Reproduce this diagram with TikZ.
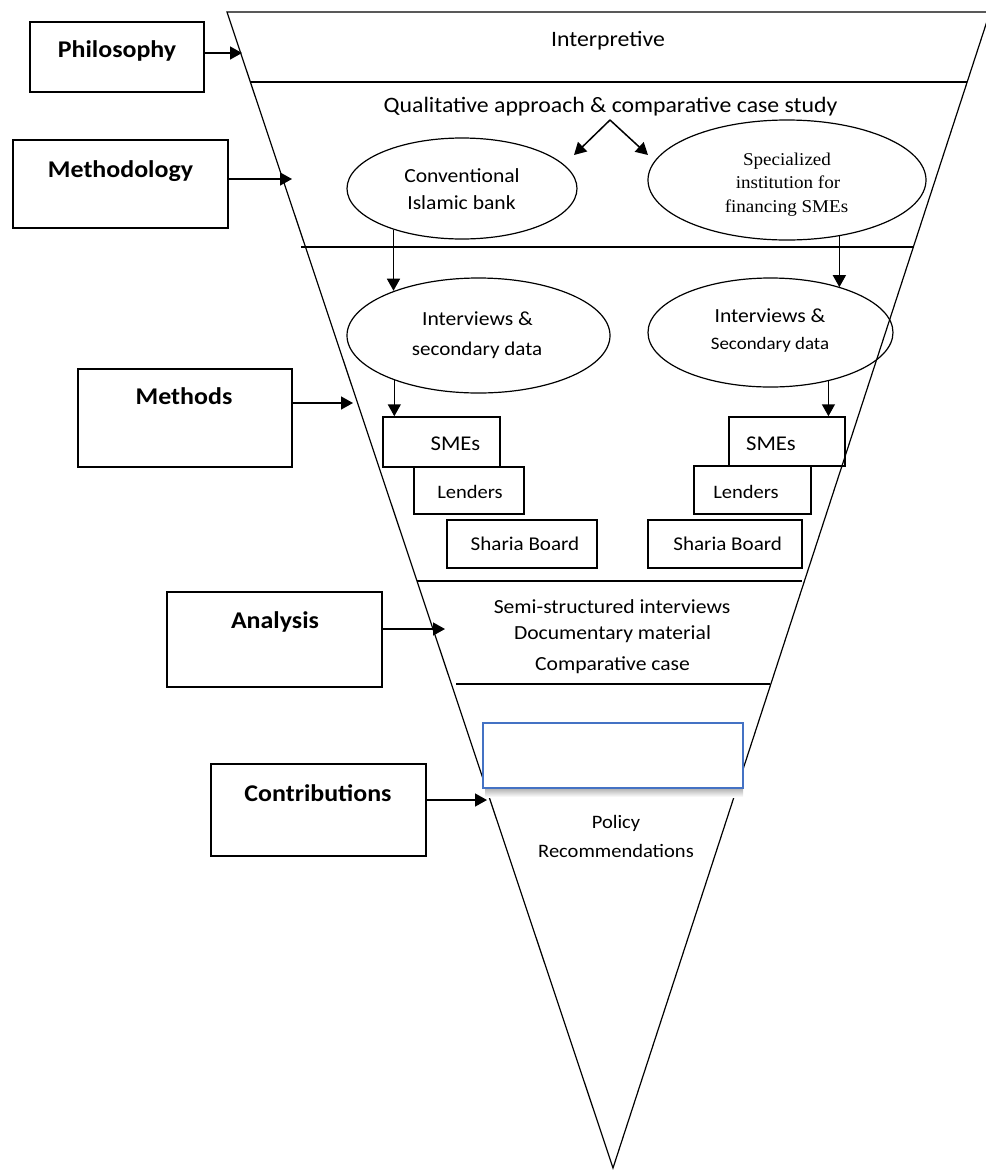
\documentclass[tikz,border=0pt]{standalone}
\usepackage{fontspec}
\setmainfont{Carlito}[FakeStretch=1.08]
\newfontfamily\specfont{Liberation Serif}[FakeStretch=1.06]
\usetikzlibrary{arrows.meta,shapes.geometric}
\definecolor{wordblue}{HTML}{4472C4}

\begin{document}
\begin{tikzpicture}[x=1pt,y=-1pt,
  line width=1.2pt,
  arr/.style={-{Triangle[length=12pt,width=13pt]}, line width=1.5pt},
  lbox/.style={draw, rectangle, line width=1.7pt, inner sep=0pt},
  lbl/.style={font=\fontsize{24}{28}\selectfont\bfseries, inner sep=0pt, anchor=base},
  txt/.style={font=\fontsize{20}{24}\selectfont, inner sep=0pt, anchor=base},
  oval/.style={draw, ellipse, line width=1.2pt, inner sep=0pt},
  sbox/.style={draw, rectangle, line width=1.5pt, inner sep=0pt},
]
\useasboundingbox (0,0) rectangle (986,1171);
\clip (0,0) rectangle (986,1171);

% inverted funnel
\coordinate (tl) at (227,12);
\coordinate (tr) at (990,12);
\coordinate (apex) at (613,1168);
\draw (tl) -- (tr) -- (apex) -- cycle;

% layer dividers
\draw (250,82) -- (967,82);
\draw (301,247) -- (913,247);
\draw (417,581) -- (802,581);
\draw (456,684) -- (770,684);

% left-hand stage labels
\node[lbox, minimum width=174pt, minimum height=70pt] (philo) at (117,57) {};
\node[lbl] (philoT) at (117,57) {Philosophy};
\node[lbox, minimum width=215pt, minimum height=88pt] (method) at (120.5,184) {};
\node[lbl] (methodT) at (120.5,177) {Methodology};
\node[lbox, minimum width=214pt, minimum height=98pt] (methods) at (185,418) {};
\node[lbl] (methodsT) at (184,404) {Methods};
\node[lbox, minimum width=215pt, minimum height=95pt] (analysis) at (274.5,639.5) {};
\node[lbl] (analysisT) at (275,628) {Analysis};
\node[lbox, minimum width=215pt, minimum height=92pt] (contrib) at (318.5,810) {};
\node[lbl] (contribT) at (318,801) {Contributions};

% arrow tips on the funnel edge
\coordinate (philoTip) at (242,53);
\coordinate (methodTip) at (292,179);
\coordinate (methodsTip) at (353,403);
\coordinate (analysisTip) at (445,629);
\coordinate (contribTip) at (487,800);
\draw[arr] (philo.east |- philoTip) -- (philoTip);
\draw[arr] (method.east |- methodTip) -- (methodTip);
\draw[arr] (methods.east |- methodsTip) -- (methodsTip);
\draw[arr] (analysis.east |- analysisTip) -- (analysisTip);
\draw[arr] (contrib.east |- contribTip) -- (contribTip);

% philosophy layer
\node[txt, font=\fontsize{22}{26}\selectfont] (interp) at (608,46) {Interpretive};

% methodology layer
\node[txt, font=\fontsize{22}{26}\selectfont] (qual) at (610.5,112) {Qualitative approach \& comparative case study};
\coordinate (qsplit) at (610,120);
\coordinate (qleft) at (574,155);
\coordinate (qright) at (648,155);
\draw[arr] (qsplit) -- (qleft);
\draw[arr] (qsplit) -- (qright);

\node[oval, minimum width=230pt, minimum height=101pt] (conv) at (462,188.5) {};
\node[txt] (convT1) at (462,182) {Conventional};
\node[txt] (convT2) at (461.5,209) {Islamic bank};

\node[oval, minimum width=278pt, minimum height=120pt] (spec) at (787,180) {};
\node[txt, font=\fontsize{18}{22}\specfont] (specT1) at (787,165) {Specialized};
\node[txt, font=\fontsize{18}{22}\specfont] (specT2) at (788,188) {institution for};
\node[txt, font=\fontsize{18}{22}\specfont] (specT3) at (786.5,212) {financing SMEs};

% methods layer
\node[oval, minimum width=263pt, minimum height=115pt] (intL) at (478.5,335.5) {};
\node[txt] (intLT1) at (477.5,325) {Interviews \&};
\node[txt, font=\fontsize{19.5}{24}\selectfont] (intLT2) at (477,355) {secondary data};

\node[oval, minimum width=245pt, minimum height=109pt] (intR) at (770.5,332.5) {};
\node[txt] (intRT1) at (770,322) {Interviews \&};
\node[txt, font=\fontsize{17.5}{21}\selectfont] (intRT2) at (770,349) {Secondary data};

\draw[arr] (conv.211.5) -- (conv.211.5 |- intL.152);
\draw[arr] (spec.313.1) -- (spec.313.1 |- intR.33.4);

\node[sbox, minimum width=117pt, minimum height=50pt] (smeL) at (441.5,442) {};
\node[txt, font=\fontsize{21}{24}\selectfont] (smeLT) at (455.5,450) {SMEs};
\node[sbox, minimum width=110pt, minimum height=47pt] (lenL) at (469,490.5) {};
\node[txt, font=\fontsize{19}{24}\selectfont] (lenLT) at (470,498) {Lenders};
\node[sbox, minimum width=150pt, minimum height=48pt] (shaL) at (522,544) {};
\node[txt, font=\fontsize{19.5}{24}\selectfont] (shaLT) at (525,550) {Sharia Board};

\node[sbox, minimum width=116pt, minimum height=49pt] (smeR) at (787,441.5) {};
\node[txt, font=\fontsize{21}{24}\selectfont] (smeRT) at (771,450) {SMEs};
\node[sbox, minimum width=117pt, minimum height=48pt] (lenR) at (752.5,490) {};
\node[txt, font=\fontsize{19}{24}\selectfont] (lenRT) at (746,498) {Lenders};
\node[sbox, minimum width=154pt, minimum height=48pt] (shaR) at (725,544) {};
\node[txt, font=\fontsize{19.5}{24}\selectfont] (shaRT) at (727.7,550) {Sharia Board};

\draw[arr] (intL.208) -- (intL.208 |- smeL.north);
\draw[arr] (intR.320.1) -- (intR.320.1 |- smeR.north);

% analysis layer
\node[txt] (anaT1) at (612,613) {Semi-structured interviews};
\node[txt] (anaT2) at (612.5,639) {Documentary material};
\node[txt] (anaT3) at (612.5,670) {Comparative case};

% contributions layer
\shade[top color=black!35, bottom color=white] (485,787) rectangle (743,797);
\node[draw=wordblue, line width=1.5pt, fill=white, rectangle, inner sep=0pt,
      minimum width=260pt, minimum height=65pt] (blank) at (613,755.5) {};
\node[txt, font=\fontsize{19}{24}\selectfont] (polT1) at (616,828) {Policy};
\node[txt, font=\fontsize{19}{24}\selectfont] (polT2) at (616,857) {Recommendations};
\end{tikzpicture}
\end{document}
